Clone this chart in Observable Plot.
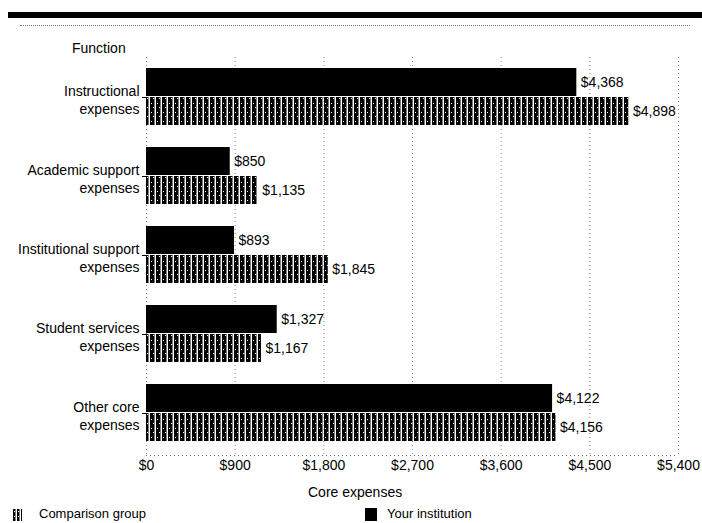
<!DOCTYPE html>
<html>
<head>
<meta charset="utf-8">
<script src="https://cdn.jsdelivr.net/npm/d3@7"></script>
<script src="https://cdn.jsdelivr.net/npm/@observablehq/plot@0.6"></script>
<style>
  html, body { margin: 0; padding: 0; background: #fff; overflow: hidden; }
  #wrap { position: relative; width: 702px; height: 523px; font-family: "Liberation Sans", Arial, sans-serif; font-size: 14px; color: #000; }
  #wrap > svg, #wrap > .layer { position: absolute; left: 0; top: 0; }
  .abs { position: absolute; white-space: nowrap; line-height: 1; }
  #topRule { left: 8px; top: 12px; width: 694px; height: 6px; background: #000; }
  #dotRule { left: 20px; top: 25px; width: 670px; border-top: 1px dotted #777; }
  .sw { position: absolute; }
  .leg { font-size: 13px; }
</style>
</head>
<body>
<div id="wrap">
  <div id="bg" class="layer"></div>
  <div id="fg" class="layer"></div>
  <div id="topRule" class="abs"></div>
  <div id="dotRule" class="abs"></div>
  <div class="abs" style="left:72px; top:41px;">Function</div>
  <div class="abs" id="xlabel" style="left:308px; top:485px;">Core expenses</div>
  <svg class="sw" style="left:13px; top:509px;" width="9" height="12"><rect width="9" height="12" fill="url(#stripesLegend)"/>
    <defs><pattern id="stripesLegend" patternUnits="userSpaceOnUse" width="4" height="5"><rect x="0" y="0" width="2.5" height="5" fill="#000"/><rect x="1" y="2" width="1" height="1" fill="#fff"/></pattern></defs></svg>
  <div class="abs leg" style="left:39px; top:507px;">Comparison group</div>
  <div class="abs" style="left:365px; top:508px; width:12px; height:13px; background:#000;"></div>
  <div class="abs leg" style="left:387px; top:507px;">Your institution</div>
</div>
<script>
// ---- data ----
const categories = ["Instructional", "Academic support", "Institutional support", "Student services", "Other core"];
const categoryLabels = ["Instructional\nexpenses", "Academic support\nexpenses", "Institutional support\nexpenses", "Student services\nexpenses", "Other core\nexpenses"];
const series = ["Your institution", "Comparison group"];
const yourInstitution = [4368, 850, 893, 1327, 4122];
const comparisonGroup = [4898, 1135, 1845, 1167, 4156];
const xTicks = [0, 900, 1800, 2700, 3600, 4500, 5400];

const rows = [];
categories.forEach((c, i) => {
  rows.push({category: c, series: series[0], value: yourInstitution[i]});
  rows.push({category: c, series: series[1], value: comparisonGroup[i]});
});
const fmt = d3.format("$,");
const W = 702, H = 500;
const commonStyle = {fontFamily: "'Liberation Sans', Arial, sans-serif", fontSize: "14px", background: "none", overflow: "visible"};

// background: grid, baseline, x tick labels
const bg = Plot.plot({
  width: W, height: H,
  marginLeft: 146, marginRight: 24, marginTop: 57, marginBottom: 45,
  style: commonStyle,
  x: {domain: [0, 5400], axis: null},
  y: {domain: [0, 1], axis: null},
  marks: [
    Plot.gridX(xTicks, {stroke: "#000", strokeOpacity: 0.45, strokeDasharray: "1,3"}),
    Plot.ruleY([0], {stroke: "#000", strokeOpacity: 0.6, strokeDasharray: "1,3"}),
    Plot.axisX(xTicks, {tickSize: 0, tickPadding: 5, tickFormat: fmt, label: null})
  ]
});
document.getElementById("bg").appendChild(bg);

// foreground: faceted bars
const fg = Plot.plot({
  width: W, height: H,
  marginLeft: 146, marginRight: 24, marginTop: 65, marginBottom: 56,
  style: commonStyle,
  x: {domain: [0, 5400], axis: null},
  y: {domain: series, padding: 0.03, axis: null},
  fy: {domain: categories, paddingInner: 0.245, paddingOuter: 0, axis: null},
  marks: [
    Plot.barX(rows, {fy: "category", y: "series", x: "value",
      fill: d => d.series === series[0] ? "#000" : "url(#stripes)"}),
    Plot.text(rows, {fy: "category", y: "series", x: "value", text: d => fmt(d.value),
      textAnchor: "start", dx: 4, fill: "#000"}),
    Plot.text(categories, {fy: d => d, frameAnchor: "left", text: (d, i) => categoryLabels[i],
      textAnchor: "end", dx: -7, dy: 2, lineHeight: 1.3, fill: "#000"}),
    Plot.axisFy({anchor: "left", tickSize: 4, tickFormat: () => "", label: null})
  ]
});
document.getElementById("fg").appendChild(fg);

// stripe pattern for the comparison group
const defs = d3.select(fg).insert("defs", ":first-child");
const pat = defs.append("pattern").attr("id", "stripes").attr("patternUnits", "userSpaceOnUse")
  .attr("width", 6).attr("height", 9);
pat.append("rect").attr("x", 0).attr("y", 0).attr("width", 4.5).attr("height", 9).attr("fill", "#000");
[[1,2],[3,6]].forEach(([x, y]) =>
  pat.append("rect").attr("x", x).attr("y", y).attr("width", 1).attr("height", 1).attr("fill", "#fff"));
</script>
</body>
</html>
